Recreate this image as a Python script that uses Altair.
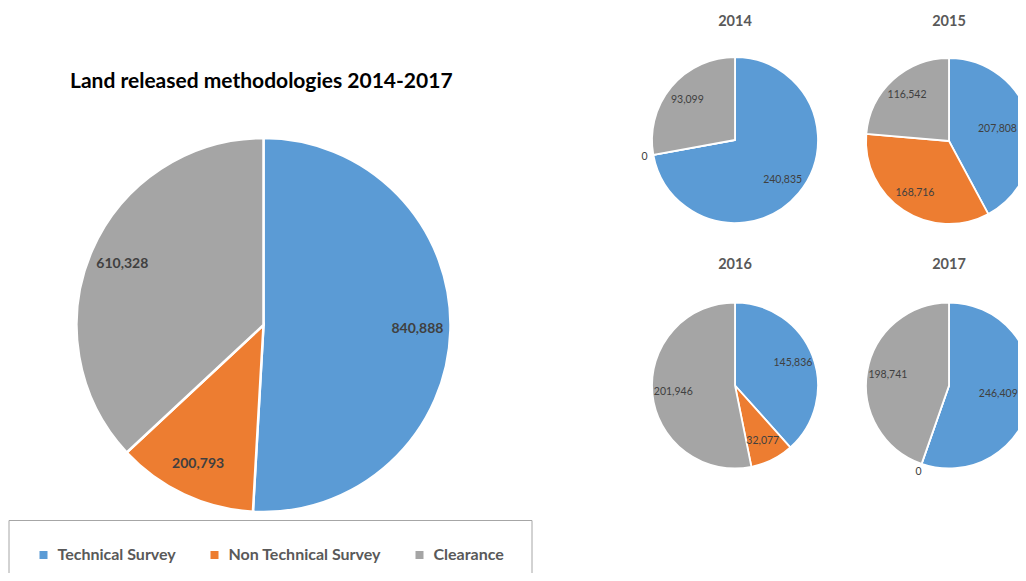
import altair as alt
import pandas as pd

FONT = "Lato"

categories = ["Technical Survey", "Non Technical Survey", "Clearance"]
colors = ["#5B9BD5", "#ED7D31", "#A5A5A5"]

pie_keys = ["total", "2014", "2015", "2016", "2017"]
total_vals = [840888, 200793, 610328]
y2014 = [240835, 0, 93099]
y2015 = [207808, 168716, 116542]
y2016 = [145836, 32077, 201946]
y2017 = [246409, 0, 198741]
series = [total_vals, y2014, y2015, y2016, y2017]

titles = ["Land released methodologies 2014-2017", "2014", "2015", "2016", "2017"]

rows = []
for key, vals in zip(pie_keys, series):
    for i, (c, v) in enumerate(zip(categories, vals)):
        rows.append(dict(pie=key, cat=c, idx=i, v=v))
df = pd.DataFrame(rows)

# layout (pixel positions of each pie in the chart area)
layout = {
    "total": dict(cx=255.5, cy=317, r=187, lr=154, tslr=154, zr=200, fs=14, fw="bold", sw=2.5,
                  tx=62, ty=74, tfs=21, tcol="#000000", talign="left"),
    "2014": dict(cx=727, cy=132, r=83, lr=62, tslr=62, zr=92, fs=10.5, fw="normal", sw=1.8,
                 tx=727, ty=13.5, tfs=14.5, tcol="#595959", talign="center"),
    "2015": dict(cx=941, cy=133, r=83, lr=62, tslr=50, zr=92, fs=10.5, fw="normal", sw=1.8,
                 tx=941, ty=13.5, tfs=14.5, tcol="#595959", talign="center"),
    "2016": dict(cx=727, cy=377.5, r=83, lr=62, tslr=62, zr=92, fs=10.5, fw="normal", sw=1.8,
                 tx=727, ty=257, tfs=14.5, tcol="#595959", talign="center"),
    "2017": dict(cx=941, cy=377.5, r=83, lr=62, tslr=50, zr=92, fs=10.5, fw="normal", sw=1.8,
                 tx=941, ty=257, tfs=14.5, tcol="#595959", talign="center"),
}

color_scale = alt.Scale(domain=categories, range=colors)
legend = alt.Legend(
    orient="none", legendX=0.5, legendY=512, direction="horizontal", title=None,
    symbolType="square", symbolSize=64, symbolStrokeWidth=0,
    labelFont=FONT, labelFontSize=16, labelFontWeight="bold", labelColor="#595959",
    labelLimit=400, labelOffset=6, columnPadding=30, padding=27,
    strokeColor="#A6A6A6", fillColor="white",
)

layers = []
for n, (key, title) in enumerate(zip(pie_keys, titles)):
    L = layout[key]
    base = (
        alt.Chart(df)
        .transform_filter(alt.datum.pie == key)
        .transform_calculate(
            lab_other="datum.v > 0 && datum.idx != 0 ? format(datum.v, ',') : ''",
            lab_ts="datum.v > 0 && datum.idx == 0 ? format(datum.v, ',') : ''",
            lab_zero="datum.v == 0 ? format(datum.v, ',') : ''",
        )
    )
    theta = alt.Theta("v:Q", stack="normalize")
    order = alt.Order("idx:Q", sort="ascending")
    arc = base.mark_arc(radius=L["r"], stroke="white", strokeWidth=L["sw"]).encode(
        theta=theta,
        order=order,
        color=alt.Color("cat:N", scale=color_scale, legend=legend if n == 0 else None),
        x=alt.value(L["cx"]),
        y=alt.value(L["cy"]),
    )
    layers.append(arc)
    for field, rad in (("lab_other", L["lr"]), ("lab_ts", L["tslr"]), ("lab_zero", L["zr"])):
        layers.append(
            base.mark_text(
                radius=rad, font=FONT, fontSize=L["fs"], fontWeight=L["fw"],
                color="#404040", align="center", baseline="middle",
            ).encode(
                theta=theta, order=order, detail="cat:N", text=f"{field}:N",
                x=alt.value(L["cx"]), y=alt.value(L["cy"]),
            )
        )
    ttl = alt.Chart(pd.DataFrame({"t": [title]})).mark_text(
        font=FONT, fontSize=L["tfs"], fontWeight="bold", color=L["tcol"],
        align=L["talign"], baseline="middle",
    ).encode(text="t:N", x=alt.value(L["tx"]), y=alt.value(L["ty"]))
    layers.append(ttl)

chart = (
    alt.layer(*layers)
    .properties(width=1010, height=565, padding=0,
                autosize=alt.AutoSizeParams(type="none"), background="white")
    .configure_view(stroke=None)
)

chart.save("out.html", embed_options={"renderer": "svg", "actions": False})
